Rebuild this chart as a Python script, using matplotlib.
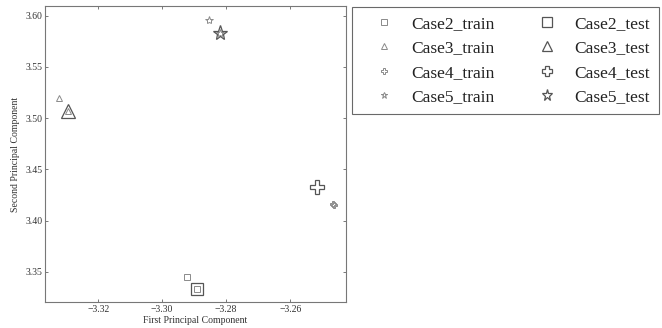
import numpy as np
import matplotlib
matplotlib.use('Agg')
import matplotlib.pyplot as plt
from matplotlib.ticker import FuncFormatter

plt.rcParams['font.family'] = ['Liberation Serif', 'DejaVu Serif']

cases = ['Case2', 'Case3', 'Case4', 'Case5']
markers = ['s', '^', 'P', '*']

train_x = [[-3.2921, -3.2892], [-3.3321, -3.3293], [-3.2467, -3.2463], [-3.2853, -3.2818]]
train_y = [[3.3451, 3.3334], [3.5193, 3.5072], [3.4162, 3.4155], [3.5958, 3.5830]]
test_x = [[-3.2892], [-3.3293], [-3.2515], [-3.2818]]
test_y = [[3.3334], [3.5072], [3.4325], [3.5830]]

xticks = [-3.32, -3.30, -3.28, -3.26]
yticks = [3.35, 3.40, 3.45, 3.50, 3.55, 3.60]

def fmt(v, pos):
    return ('%.2f' % v).replace('-', '\u2212')

fig = plt.figure(figsize=(6.62, 3.28), dpi=100)
ax = fig.add_axes([0.068, 0.079, 0.455, 0.903])

train_sizes = {'s': 5, '^': 5, 'P': 5, '*': 6}
test_sizes = {'s': 9, '^': 10, 'P': 10, '*': 11}

handles = []
for i, name in enumerate(cases):
    m = markers[i]
    h, = ax.plot(train_x[i], train_y[i], linestyle='none', marker=m,
                 markersize=train_sizes[m], markerfacecolor='none',
                 markeredgecolor='#8a8a8a', markeredgewidth=0.7,
                 label=name + '_train')
    handles.append(h)
for i, name in enumerate(cases):
    m = markers[i]
    h, = ax.plot(test_x[i], test_y[i], linestyle='none', marker=m,
                 markersize=test_sizes[m], markerfacecolor='none',
                 markeredgecolor='#555555', markeredgewidth=0.9,
                 label=name + '_test')
    handles.append(h)

ax.set_xlim(-3.3366, -3.2425)
ax.set_ylim(3.3204, 3.6095)
ax.set_xticks(xticks)
ax.set_yticks(yticks)
ax.xaxis.set_major_formatter(FuncFormatter(fmt))
ax.yaxis.set_major_formatter(FuncFormatter(fmt))
ax.tick_params(direction='in', length=2, width=0.5, labelsize=7, pad=2,
               top=True, right=True, colors='#444444', labelcolor='#333333')
for s in ax.spines.values():
    s.set_color('#777777')
    s.set_linewidth(0.8)
ax.set_xlabel('First Principal Component', fontsize=7, labelpad=1.5, color='#333333')
ax.set_ylabel('Second Principal Component', fontsize=7, labelpad=4, color='#333333')

leg = fig.legend(handles=handles, loc='upper left', ncol=2,
                 bbox_to_anchor=(352 / 662, 1 - 7 / 328), borderaxespad=0,
                 fontsize=12.5, frameon=True, fancybox=False,
                 handlelength=2.65, handletextpad=0.25, columnspacing=1.7,
                 labelspacing=0.48, borderpad=0.5, markerscale=0.75)
leg.get_frame().set_edgecolor('#444444')
leg.get_frame().set_linewidth(0.8)
for t in leg.get_texts():
    t.set_color('#222222')

fig.savefig('out.png', dpi=100)
